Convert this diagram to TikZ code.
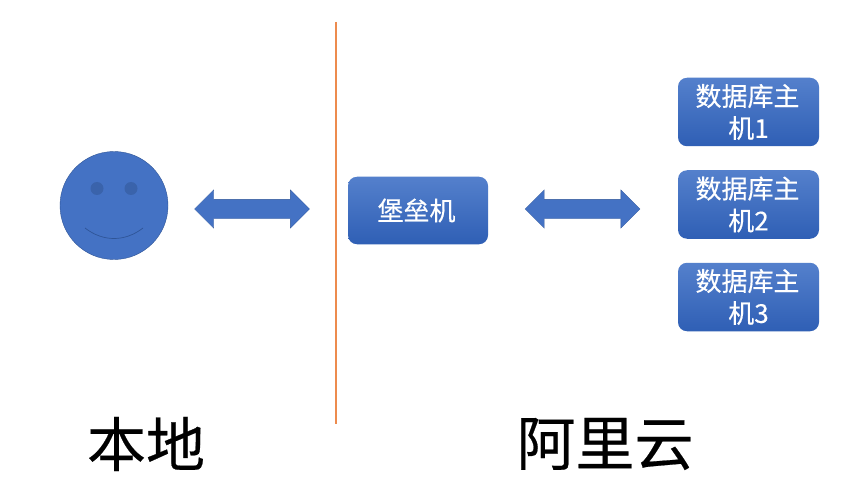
\documentclass[tikz,border=0pt]{standalone}
\usepackage{fontspec}
\setmainfont{Noto Sans CJK SC}[FakeBold=0.35]
\usetikzlibrary{shapes.arrows}
\definecolor{faceblue}{HTML}{4472C4}
\definecolor{edgeblue}{HTML}{2F5597}
\definecolor{eyeblue}{HTML}{3A63AB}
\definecolor{boxtop}{HTML}{5480CC}
\definecolor{boxbot}{HTML}{2F5FB5}
\definecolor{divider}{HTML}{ED8B4E}
\tikzset{
  hostbox/.style={rounded corners=9pt,top color=boxtop,bottom color=boxbot,draw=none,
    text=white,font=\fontsize{26pt}{32pt}\selectfont,align=center,inner sep=0pt,
    minimum width=141pt,minimum height=68.5pt},
  twoway/.style={double arrow,fill=faceblue,draw=edgeblue,line width=.3pt,inner sep=0pt,
    minimum height=115pt,double arrow head extend=9.5pt},
  biglabel/.style={font=\fontsize{59pt}{62pt}\selectfont,text=black,inner sep=0pt}
}
\begin{document}
\begin{tikzpicture}[x=1pt,y=-1pt]
\useasboundingbox (0,0) rectangle (864,497);
\fill[white] (0,0) rectangle (864,497);
\coordinate (dtop) at (336,22);
\coordinate (dbot) at (336,424);
\draw[divider,line width=1.1pt] (dtop) -- (dbot);
\node[circle,fill=faceblue,draw=edgeblue,line width=.4pt,minimum size=108pt,inner sep=0pt] (face) at (114,205.5) {};
\node[circle,fill=eyeblue,minimum size=13pt,inner sep=0pt] (eyeL) at (97,188.5) {};
\node[circle,fill=eyeblue,minimum size=13pt,inner sep=0pt] (eyeR) at (131,188.5) {};
\draw[edgeblue,line width=.7pt] (85,228) .. controls (103,242) and (125,242) .. (143,228);
\node[twoway] (arrowA) at (252,209) {\rule{0pt}{19pt}};
\node[twoway] (arrowB) at (582.5,209) {\rule{0pt}{19pt}};
\node[hostbox,minimum width=140pt,minimum height=67.5pt] (bastion) at (418,210.5) {\hspace{-3pt}堡垒机};
\node[hostbox] (db1) at (748.5,112) {\hspace{-2pt}数据库主\\机1};
\node[hostbox] (db2) at (748.5,204.5) {\hspace{-2pt}数据库主\\机2};
\node[hostbox] (db3) at (748.5,297) {\hspace{-2pt}数据库主\\机3};
\node[biglabel] (local) at (146,444) {本地};
\node[biglabel] (cloud) at (605,444) {阿里云};
\end{tikzpicture}
\end{document}
